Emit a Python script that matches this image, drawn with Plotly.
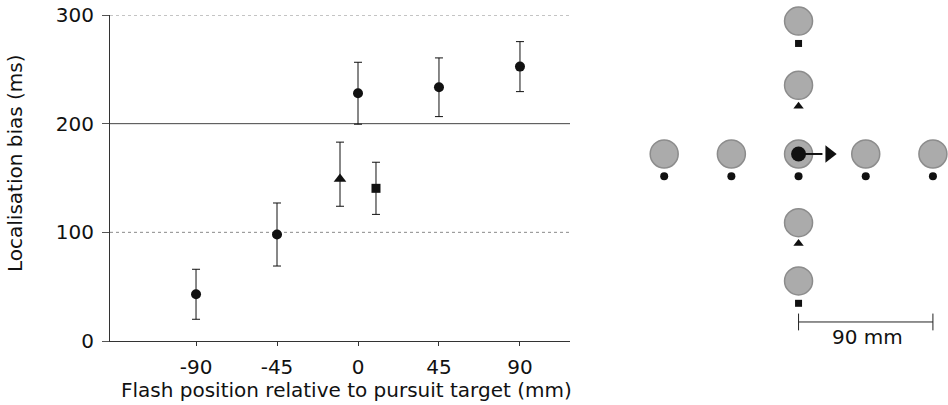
import plotly.graph_objects as go

# ---------------- data (left panel) ----------------
circ_x = [-90, -45, 0, 45, 90]
circ_y = [43, 98, 228, 233.5, 252.5]
circ_err = [23, 29, 28.5, 27, 23]

tri_x = [-10]
tri_y = [149]
tri_err_plus = [34]
tri_err_minus = [25]

sq_x = [10]
sq_y = [140.5]
sq_err = [24]

x_ticks = [-90, -45, 0, 45, 90]
x_ticktext = ["-90", "-45", "0", "45", "90"]
y_ticks = [0, 100, 200, 300]
y_ticktext = ["0", "100", "200", "300"]
dotted_grid = [100, 300]
solid_grid = [200]

# ---------------- data (right panel, schematic, mm) ----------------
horiz_flash_x = [-90, -45, 0, 45, 90]
vert_flash_outer_y = [89, -85]   # squares
vert_flash_inner_y = [46, -46]   # triangles
scale_bar_mm = [0, 90]

FONT = "DejaVu Sans"
INK = "#111111"

fig = go.Figure()

err_style = dict(type="data", color=INK, thickness=1, width=4, visible=True)

fig.add_trace(go.Scatter(
    x=circ_x, y=circ_y, mode="markers",
    marker=dict(symbol="circle", size=10, color=INK),
    error_y=dict(array=circ_err, **err_style),
    xaxis="x", yaxis="y", showlegend=False, hoverinfo="skip"))
fig.add_trace(go.Scatter(
    x=tri_x, y=tri_y, mode="markers",
    marker=dict(symbol="triangle-up", size=11, color=INK),
    error_y=dict(array=tri_err_plus, arrayminus=tri_err_minus, symmetric=False, **err_style),
    xaxis="x", yaxis="y", showlegend=False, hoverinfo="skip"))
fig.add_trace(go.Scatter(
    x=sq_x, y=sq_y, mode="markers",
    marker=dict(symbol="square", size=9, color=INK),
    error_y=dict(array=sq_err, **err_style),
    xaxis="x", yaxis="y", showlegend=False, hoverinfo="skip"))

# grid lines
for g in solid_grid:
    fig.add_shape(type="line", xref="x domain", yref="y", x0=0, x1=1, y0=g, y1=g,
                  line=dict(color="#444444", width=1), layer="below")
for g in dotted_grid:
    fig.add_shape(type="line", xref="x domain", yref="y", x0=0, x1=1, y0=g, y1=g,
                  line=dict(color="#8a8a8a", width=1, dash="dot"), layer="below")

# ---------------- right panel ----------------
MARK_DROP = 15  # mm below each flash disc
disc = dict(symbol="circle", size=28, color="#ababab",
            line=dict(color="#8c8c8c", width=1.5))

all_disc_x = horiz_flash_x + [0] * (len(vert_flash_outer_y) + len(vert_flash_inner_y))
all_disc_y = [0] * len(horiz_flash_x) + vert_flash_outer_y + vert_flash_inner_y
fig.add_trace(go.Scatter(x=all_disc_x, y=all_disc_y, mode="markers", marker=disc,
                         xaxis="x2", yaxis="y2", showlegend=False, hoverinfo="skip"))

fig.add_trace(go.Scatter(x=horiz_flash_x, y=[-MARK_DROP] * len(horiz_flash_x), mode="markers",
                         marker=dict(symbol="circle", size=8, color=INK),
                         xaxis="x2", yaxis="y2", showlegend=False, hoverinfo="skip"))
fig.add_trace(go.Scatter(x=[0] * len(vert_flash_outer_y), y=[v - MARK_DROP for v in vert_flash_outer_y],
                         mode="markers", marker=dict(symbol="square", size=7, color=INK),
                         xaxis="x2", yaxis="y2", showlegend=False, hoverinfo="skip"))
fig.add_trace(go.Scatter(x=[0] * len(vert_flash_inner_y), y=[v - MARK_DROP + 1 for v in vert_flash_inner_y],
                         mode="markers", marker=dict(symbol="triangle-up", size=9, color=INK),
                         xaxis="x2", yaxis="y2", showlegend=False, hoverinfo="skip"))

# pursuit target with arrow
fig.add_trace(go.Scatter(x=[0, 16], y=[0, 0], mode="lines", line=dict(color=INK, width=2),
                         xaxis="x2", yaxis="y2", showlegend=False, hoverinfo="skip"))
fig.add_trace(go.Scatter(x=[0], y=[0], mode="markers", marker=dict(symbol="circle", size=15, color=INK),
                         xaxis="x2", yaxis="y2", showlegend=False, hoverinfo="skip"))
fig.add_trace(go.Scatter(x=[20.5], y=[0], mode="markers", marker=dict(symbol="triangle-right", size=15, color=INK),
                         xaxis="x2", yaxis="y2", showlegend=False, hoverinfo="skip"))

# scale bar
BAR_Y = -112.5
fig.add_trace(go.Scatter(x=scale_bar_mm, y=[BAR_Y, BAR_Y], mode="lines+markers",
                         line=dict(color="#222222", width=1),
                         marker=dict(symbol="line-ns", size=12, line=dict(color="#222222", width=1)),
                         xaxis="x2", yaxis="y2", showlegend=False, hoverinfo="skip"))
fig.add_annotation(x=sum(scale_bar_mm) / 2 + 1.5, y=BAR_Y - 10, xref="x2", yref="y2",
                   text=f"{scale_bar_mm[1] - scale_bar_mm[0]} mm", showarrow=False,
                   font=dict(family=FONT, size=20, color=INK))

# axis titles as annotations
fig.add_annotation(x=346 / 948, y=1 - 390 / 405, xref="paper", yref="paper",
                   text="Flash position relative to pursuit target (mm)", showarrow=False,
                   font=dict(family=FONT, size=20, color=INK), xanchor="center", yanchor="middle")
fig.add_annotation(x=15 / 948, y=1 - 163 / 405, xref="paper", yref="paper",
                   text="Localisation bias (ms)", showarrow=False, textangle=-90,
                   font=dict(family=FONT, size=20, color=INK), xanchor="center", yanchor="middle")

fig.update_layout(
    template="none",
    width=948, height=405,
    margin=dict(l=0, r=0, t=0, b=0, pad=0, autoexpand=False),
    paper_bgcolor="white", plot_bgcolor="white",
    font=dict(family=FONT, size=20, color=INK),
    xaxis=dict(domain=[110 / 948, 570 / 948], range=[-137.8, 117.8],
               tickvals=x_ticks, ticktext=x_ticktext,
               showline=True, linecolor="#333333", linewidth=1,
               ticks="outside", ticklen=4, tickcolor="#333333",
               showgrid=False, zeroline=False, anchor="y", automargin=False,
               ticklabelstandoff=4),
    yaxis=dict(domain=[1 - 341 / 405, 1 - 15 / 405], range=[0, 300],
               tickvals=y_ticks, ticktext=y_ticktext,
               showline=True, linecolor="#333333", linewidth=1,
               ticks="outside", ticklen=7, tickcolor="#555555",
               showgrid=False, zeroline=False, anchor="x", automargin=False,
               ticklabelstandoff=4),
    xaxis2=dict(domain=[640 / 948, 1], range=[-106.2, 100.1], visible=False, anchor="y2"),
    yaxis2=dict(domain=[0, 1], range=[-168.1, 103.1], visible=False, anchor="x2"),
)

fig.write_html("out.html")
